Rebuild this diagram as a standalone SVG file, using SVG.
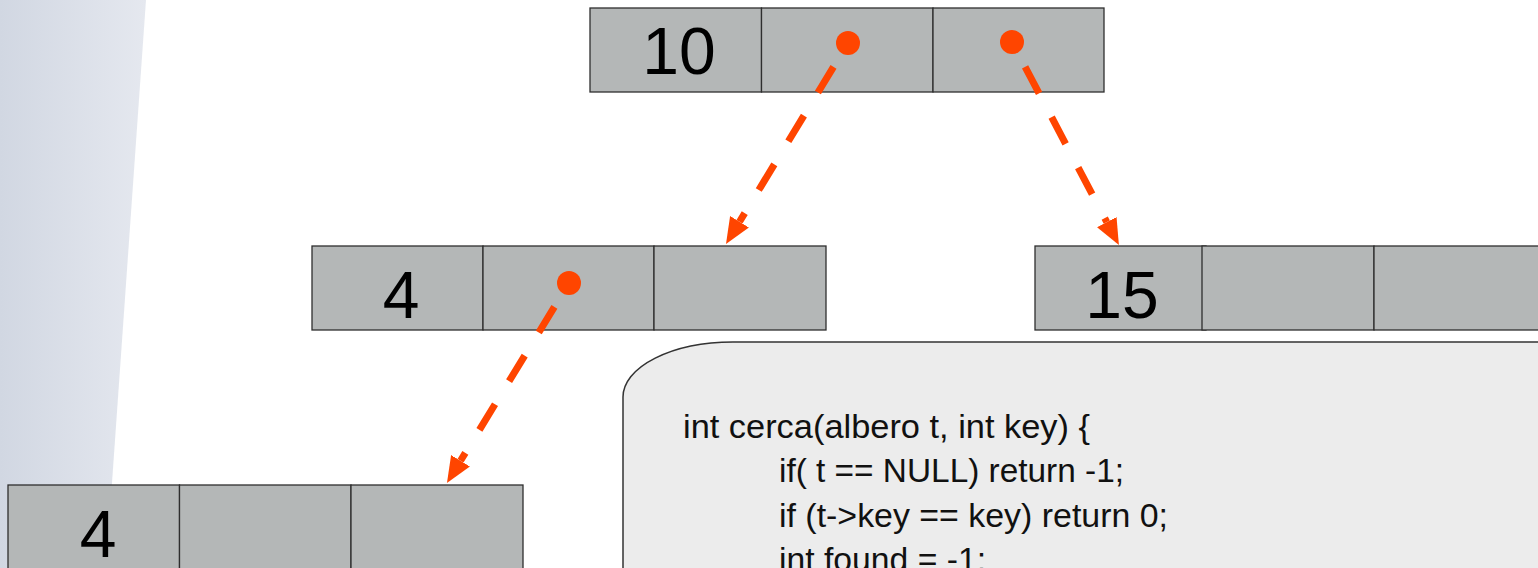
<svg xmlns="http://www.w3.org/2000/svg" width="1538" height="568" viewBox="0 0 1538 568">
  <style>
    .cell { fill: #b4b7b7; stroke: #2e2e2e; stroke-width: 1.3; }
    .num { font-family: "Liberation Sans", Arial, sans-serif; font-size: 66px; fill: #000; text-anchor: middle; }
    .code { font-family: "Liberation Sans", Arial, sans-serif; font-size: 33px; fill: #111; }
    .ptr { fill: #ff4500; }
    .link { fill: none; stroke: #ff4500; stroke-width: 7; stroke-dasharray: 30 27; marker-end: url(#ah); }
  </style>
  <defs>
    <linearGradient id="bg" x1="0" y1="0" x2="1" y2="0">
      <stop offset="0" stop-color="#d1d7e2"/>
      <stop offset="1" stop-color="#e5e8ef"/>
    </linearGradient>
    <marker id="ah" markerUnits="userSpaceOnUse" markerWidth="26" markerHeight="26" viewBox="0 0 26 26" refX="0" refY="13" orient="auto">
      <path d="M0,2 L26,13 L0,24 Z" fill="#ff4500"/>
    </marker>
  </defs>

  <polygon points="0,0 146,0 106,568 0,568" fill="url(#bg)"/>

  <g id="code-box">
    <path d="M623,575 V397 A110,55 0 0 1 733,342 H1550 V575 Z" fill="#ececec" stroke="#333" stroke-width="1.5"/>
    <text class="code" x="683" y="438" textLength="407" lengthAdjust="spacingAndGlyphs">int cerca(albero t, int key) {</text>
    <text class="code" x="779" y="482" textLength="345" lengthAdjust="spacingAndGlyphs">if( t == NULL) return -1;</text>
    <text class="code" x="779" y="527" textLength="389" lengthAdjust="spacingAndGlyphs">if (t-&gt;key == key) return 0;</text>
    <text class="code" x="779" y="571" textLength="207" lengthAdjust="spacingAndGlyphs">int found = -1;</text>
  </g>

  <g id="node-10">
    <rect class="cell" x="590" y="8" width="171.5" height="84"/>
    <rect class="cell" x="761.5" y="8" width="171.5" height="84"/>
    <rect class="cell" x="933" y="8" width="171" height="84"/>
    <text class="num" x="679" y="74">10</text>
    <circle class="ptr" cx="848" cy="43" r="12"/>
    <circle class="ptr" cx="1012" cy="42" r="12"/>
  </g>

  <g id="node-4a">
    <rect class="cell" x="312" y="246" width="171" height="84"/>
    <rect class="cell" x="483" y="246" width="171" height="84"/>
    <rect class="cell" x="654" y="246" width="172" height="84"/>
    <text class="num" x="401" y="318">4</text>
    <circle class="ptr" cx="569" cy="283" r="12"/>
  </g>

  <g id="node-15">
    <rect class="cell" x="1035" y="246" width="171" height="84"/>
    <rect class="cell" x="1202" y="246" width="172" height="84"/>
    <rect class="cell" x="1374" y="246" width="172" height="84"/>
    <text class="num" x="1122" y="318">15</text>
  </g>

  <g id="node-4b">
    <rect class="cell" x="8" y="485" width="171.5" height="90"/>
    <rect class="cell" x="179.5" y="485" width="171.5" height="90"/>
    <rect class="cell" x="351" y="485" width="172" height="90"/>
    <text class="num" x="98" y="557">4</text>
  </g>

  <g id="connectors">
    <path class="link" d="M833.5,66.9 L739.5,221.7"/>
    <path class="link" d="M1025.1,66.8 L1106.8,222.1"/>
    <path class="link" d="M554.4,306.9 L460.5,460.8"/>
  </g>
</svg>
